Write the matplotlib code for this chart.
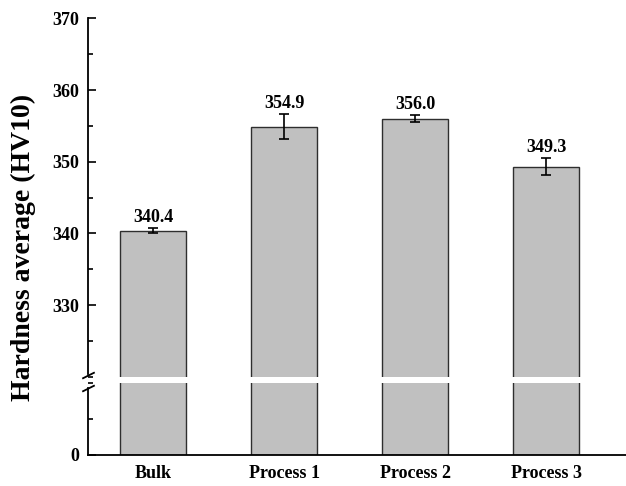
import matplotlib.pyplot as plt
from matplotlib.ticker import MultipleLocator

samples = ['Bulk', 'Process 1', 'Process 2', 'Process 3']
hardness = [340.4, 354.9, 356.0, 349.3]
hardness_err = [0.35, 1.7, 0.5, 1.2]

plt.rcParams['font.family'] = 'Liberation Serif'
plt.rcParams['font.weight'] = 'bold'

fig = plt.figure(figsize=(6.26, 4.86), dpi=100)
# broken y axis: upper part 320-370, lower part 0-10
ax_top = fig.add_axes([0.1406, 0.2247, 0.8594, 0.7376])
ax_bot = fig.add_axes([0.1406, 0.0638, 0.8594, 0.1481])

x = list(range(len(samples)))
for ax in (ax_top, ax_bot):
    ax.bar(x, hardness, width=0.5, color='#c0c0c0', edgecolor='#2e2e2e',
           linewidth=1.0, zorder=2)
    ax.set_xlim(-0.496, 3.61)
    for side in ('top', 'right'):
        ax.spines[side].set_visible(False)
    ax.spines['left'].set_linewidth(1.3)
    ax.spines['bottom'].set_linewidth(1.3)
    ax.tick_params(axis='y', which='major', direction='in', length=6,
                   width=1.2, labelsize=13, pad=6)
    ax.tick_params(axis='y', which='minor', direction='in', length=3.5,
                   width=1.2)

ax_top.errorbar(x, hardness, yerr=hardness_err, fmt='none', ecolor='black',
                elinewidth=1.2, capsize=3.6, capthick=1.2, zorder=3)
for xi, h, e in zip(x, hardness, hardness_err):
    ax_top.annotate(f'{h:.1f}', (xi, h + e), xytext=(0, 1.5),
                    textcoords='offset points', ha='center', va='bottom',
                    fontsize=13, fontweight='bold')

ax_top.set_ylim(320, 370)
ax_top.yaxis.set_minor_locator(MultipleLocator(5))
ax_top.set_yticks([330, 340, 350, 360, 370])
ax_top.spines['bottom'].set_visible(False)
ax_top.spines['left'].set_bounds(320.4, 370)
ax_top.set_xticks([])

ax_bot.set_ylim(0, 10)
ax_bot.set_yticks([0])
ax_bot.yaxis.set_minor_locator(MultipleLocator(5))
ax_bot.spines['left'].set_bounds(0, 9.3)
ax_bot.set_xticks(x)
ax_bot.set_xticklabels(samples, fontsize=13, fontweight='bold')
ax_bot.tick_params(axis='x', length=0, pad=7)

# break marks on the left spine
slash = dict(marker=[(-1, -0.5), (1, 0.5)], markersize=9, linestyle='none',
             color='black', mec='black', mew=1.3, clip_on=False)
ax_top.plot([0], [0.006], transform=ax_top.transAxes, **slash)
ax_bot.plot([0], [0.93], transform=ax_bot.transAxes, **slash)

fig.text(0.038, 1 - 247 / 486, 'Hardness average (HV10)', rotation=90,
         ha='center', va='center', fontsize=20, fontweight='bold')

fig.savefig('out.png', dpi=100)
